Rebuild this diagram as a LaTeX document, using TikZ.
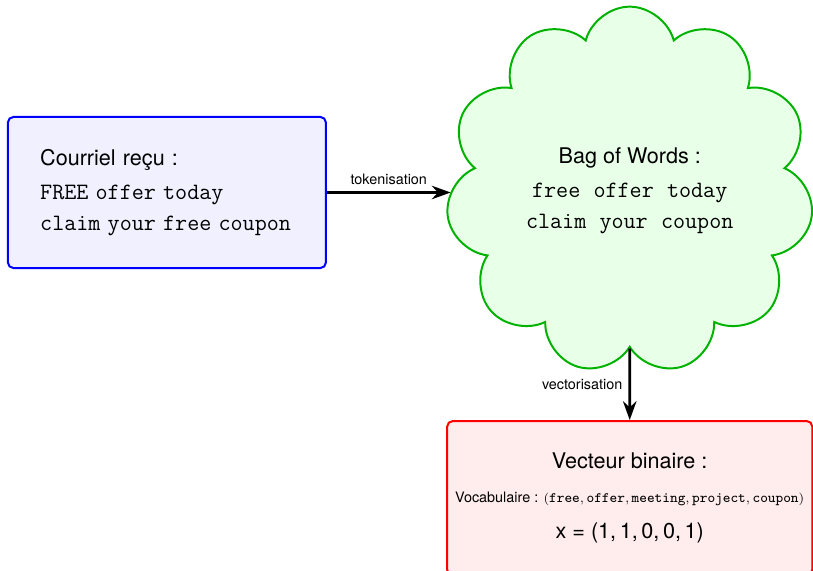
\documentclass[tikz,border=0pt]{standalone}
\usepackage{fontspec}
\setmainfont{TeX Gyre Heros}
\setmonofont{Latin Modern Mono}[Scale=1.085]
\usetikzlibrary{shapes.symbols,arrows.meta,positioning}
\newcommand{\mot}{\hspace{4pt} }
\newcommand{\petit}{\fontsize{7.4}{9}\selectfont}

\begin{document}
\begin{tikzpicture}[
  fleche/.style={line width=1.5pt,-{Stealth[length=10.5pt,width=7.5pt]}},
  etiq/.style={font=\footnotesize},
  boite/.style={draw,line width=1.1pt,rounded corners=3pt,minimum width=7.13cm,font=\large}]
\useasboundingbox (0,0) rectangle (15.88,-11.15);
% courriel
\node[boite,draw=blue,fill=blue!6,minimum width=6.21cm,minimum height=2.95cm,align=left,text width=4.95cm] (mail) at (3.26,-3.76)
  {Courriel reçu :\\[5pt] \texttt{FREE offer today}\\[3pt] \texttt{claim your free coupon}};
% sac de mots
\node[cloud,cloud puffs=11,aspect=1,draw=green!70!black,line width=1.1pt,fill=green!9,minimum width=7.18cm,minimum height=7.18cm,align=center,font=\large] (bow) at (12.30,-3.72)
  {Bag of Words :\\[5pt] \texttt{free}\mot\texttt{offer}\mot\texttt{today}\\[3pt] \texttt{claim}\mot\texttt{your}\mot\texttt{coupon}};
% vecteur
\node[boite,draw=red,fill=red!7,minimum height=3.01cm,align=center] (vec) at (12.30,-9.73)
  {Vecteur binaire :\\[5pt] {\footnotesize Vocabulaire : {\petit$(\texttt{free},\texttt{offer},\texttt{meeting},\texttt{project},\texttt{coupon})$}}\\[6pt] x\;=\;(1,\,1,\,0,\,0,\,1)};
\draw[fleche] (mail.east) -- node[etiq,above] {tokenisation} (mail.east -| bow.west);
\draw[fleche] (bow.south) -- node[etiq,left] {vectorisation} (vec.north);
\end{tikzpicture}
\end{document}
